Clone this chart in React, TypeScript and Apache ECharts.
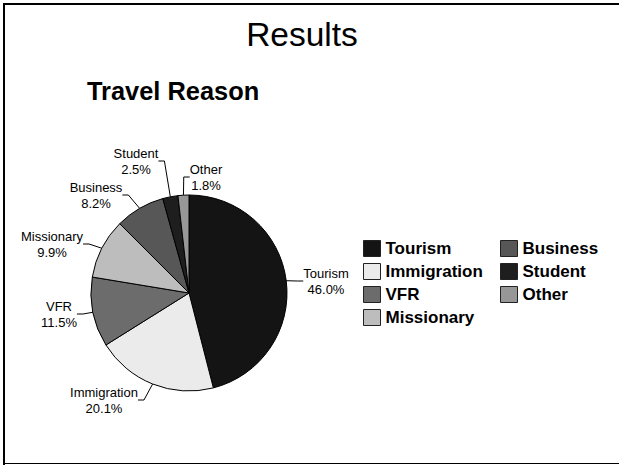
import React, { useEffect, useRef } from "react";
import * as echarts from "echarts";

const categories = ["Tourism", "Immigration", "VFR", "Missionary", "Business", "Student", "Other"];
const shares = [46.0, 20.1, 11.5, 9.9, 8.2, 2.5, 1.8];
const sliceColors = ["#141414", "#ebebeb", "#6c6c6c", "#bdbdbd", "#575757", "#1e1e1e", "#979797"];
const legendColumn1 = ["Tourism", "Immigration", "VFR", "Missionary"];
const legendColumn2 = ["Business", "Student", "Other"];
const pageTitle = "Results";
const chartTitle = "Travel Reason";

// where each slice's label block is centred (label placement, as in the original slide)
const labelCentres: [number, number][] = [
  [326, 281],
  [104, 400],
  [59, 314],
  [52, 244],
  [96, 195],
  [136, 161],
  [206, 177],
];

const FONT = "'Liberation Sans', Arial, Helvetica, sans-serif";

export default function App() {
  const ref = useRef<HTMLDivElement>(null);

  useEffect(() => {
    document.body.style.margin = "0";
    if (!ref.current) return;
    const chart = echarts.init(ref.current, null, { renderer: "svg" });

    const legendBase = {
      orient: "vertical",
      top: 240,
      padding: 0,
      itemWidth: 17,
      itemHeight: 16,
      itemGap: 6,
      icon: "rect",
      itemStyle: { borderColor: "#222", borderWidth: 1 },
      textStyle: { fontFamily: FONT, fontSize: 17, fontWeight: "bold", color: "#000", lineHeight: 17 },
      selectedMode: false,
    };

    chart.setOption({
      animation: false,
      backgroundColor: "#fff",
      color: sliceColors,
      graphic: [
        {
          type: "line",
          shape: { x1: 4, y1: 3, x2: 4, y2: 465 },
          style: { stroke: "#000", lineWidth: 2 },
          silent: true,
        },
        {
          type: "line",
          shape: { x1: 3, y1: 4, x2: 640, y2: 4 },
          style: { stroke: "#000", lineWidth: 2 },
          silent: true,
        },
        {
          type: "line",
          shape: { x1: 3, y1: 463.5, x2: 640, y2: 463.5 },
          style: { stroke: "#000", lineWidth: 1.2 },
          silent: true,
        },
        {
          type: "text",
          x: 302,
          y: 34,
          style: {
            text: pageTitle,
            fontFamily: FONT,
            fontSize: 33.5,
            fill: "#000",
            align: "center",
            verticalAlign: "middle",
          },
        },
        {
          type: "text",
          x: 87,
          y: 91,
          style: {
            text: chartTitle,
            fontFamily: FONT,
            fontSize: 25.4,
            fontWeight: "bold",
            fill: "#000",
            align: "left",
            verticalAlign: "middle",
          },
        },
      ],
      legend: [
        { ...legendBase, left: 363, data: legendColumn1 },
        { ...legendBase, left: 500, data: legendColumn2 },
      ],
      series: [
        {
          type: "pie",
          center: [189, 293],
          radius: 98,
          startAngle: 90,
          clockwise: true,
          avoidLabelOverlap: false,
          itemStyle: { borderColor: "#000", borderWidth: 1 },
          emphasis: { disabled: true },
          label: {
            show: true,
            position: "outside",
            fontFamily: FONT,
            fontSize: 13,
            lineHeight: 16,
            color: "#000",
            formatter: (p: any) => `{c|${p.name}}\n{c|${Number(p.value).toFixed(1)}%}`,
            rich: {
              c: { align: "center", fontFamily: FONT, fontSize: 13, lineHeight: 16, color: "#000" },
            },
          },
          labelLine: {
            show: true,
            length: 8,
            length2: 6,
            smooth: false,
            lineStyle: { color: "#000", width: 1 },
          },
          labelLayout: (params: any) => {
            const c = labelCentres[params.dataIndex];
            return { x: c[0], y: c[1], align: "center", verticalAlign: "middle" };
          },
          data: categories.map((name, i) => ({ name, value: shares[i] })),
        },
      ],
    });

    return () => chart.dispose();
  }, []);

  return <div ref={ref} style={{ width: 619, height: 466, position: "absolute", left: 0, top: 0 }} />;
}
